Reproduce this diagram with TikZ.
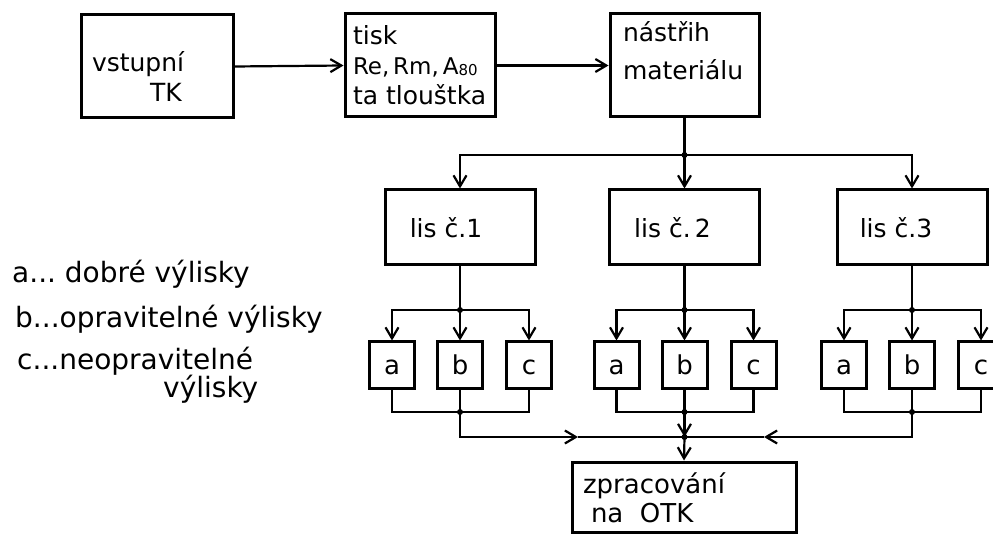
\documentclass[tikz,border=0pt]{standalone}
\usepackage{fontspec}
\setmainfont{DejaVu Sans}
\usetikzlibrary{arrows.meta}
\begin{document}
\begin{tikzpicture}[x=1pt,y=-1pt,
  box/.style={draw, line width=3pt, inner sep=0pt, rectangle},
  txt/.style={inner sep=0pt, outer sep=0pt, align=left, font=\fontsize{25}{30}\selectfont},
  leg/.style={inner sep=0pt, anchor=base west, font=\fontsize{28}{34}\selectfont},
  conn/.style={line width=2.2pt},
  arr/.style={conn, -{Straight Barb[length=11pt,width=13pt]}},
  dot/.style={circle, fill, inner sep=0pt, minimum size=6pt},
  lisbox/.style={box, minimum width=150pt, minimum height=75pt},
  sbox/.style={box, minimum width=45pt, minimum height=46pt, text height=19pt, text depth=0pt, font=\fontsize{26}{30}\selectfont},
]
\useasboundingbox (0,0) rectangle (993,534);

% top row
\node[box, minimum width=152pt, minimum height=103pt] (tk) at (157,66.5) {};
\node[txt, anchor=north west] (tkt) at (92,52) {vstupní\\\hspace*{58pt}TK};
\node[box, minimum width=150pt, minimum height=103pt] (tisk) at (420,65.5) {};
\node[txt, anchor=north west] (tiskt) at (353,26) {tisk\\{\fontsize{23}{30}\selectfont Re,\,Rm,\,A\raisebox{-1pt}{\fontsize{15}{15}\selectfont 80}}\\ta tlouštka};
\node[box, minimum width=149pt, minimum height=103pt] (nas) at (684.5,65.5) {};
\node[txt, anchor=north west, font=\fontsize{25}{38}\selectfont] (nast) at (623,22) {nástřih\\materiálu};

\draw[arr] (tk.east) -- (tisk.west);
\draw[arr] (tisk.east) -- (nas.west);

% distribution to presses
\coordinate (j0) at (684.5,155);
\node[lisbox] (lis1) at (460,227.5) {};
\node[lisbox] (lis2) at (684.5,227.5) {};
\node[lisbox] (lis3) at (912,227.5) {};
\node[txt] (l1t) at ([xshift=-14pt]lis1.center) {lis č.1};
\node[txt] (l2t) at ([xshift=-12pt]lis2.center) {lis č.\,2};
\node[txt] (l3t) at ([xshift=-16pt]lis3.center) {lis č.3};
\draw[conn] (nas.south) -- (j0);
\draw[arr] (j0) -| (lis1.north);
\draw[arr] (j0) -| (lis3.north);
\draw[arr] (j0) -- (lis2.north);
\node[dot] (d0) at (j0) {};

% a b c boxes
\foreach \n/\x in {1/460,2/684.5,3/912} {
  \node[sbox] (a\n) at (\x-68,365) {a};
  \node[sbox] (b\n) at (\x,365) {b};
  \node[sbox] (c\n) at (\x+69,365) {c};
  \coordinate (s\n) at (\x,310);
  \draw[conn] (lis\n.south) -- (s\n);
  \draw[arr] (s\n) -| (a\n.north);
  \draw[arr] (s\n) -| (c\n.north);
  \draw[arr] (s\n) -- (b\n.north);
  \node[dot] (sd\n) at (s\n) {};
  \coordinate (k\n) at (\x,412);
  \draw[conn] (a\n.south) |- (k\n) -| (c\n.south);
  \draw[conn] (b\n.south) -- (k\n);
  \node[dot] (kd\n) at (k\n) {};
}

% collection
\coordinate (J) at (684.5,437);
\coordinate (m1) at (578,437);
\coordinate (m3) at (764,437);
\draw[arr] (k1) |- (m1);
\draw[conn] (m1) -- (J);
\draw[arr] (k3) |- (m3);
\draw[conn] (m3) -- (J);
\draw[arr] (k2) -- (J);
\node[box, minimum width=224pt, minimum height=70pt] (zp) at (684,497) {};
\draw[arr] (J) -- (zp.north);
\node[dot] (Jd) at (J) {};
\node[txt, anchor=north west, font=\fontsize{26}{29}\selectfont] (zpt) at (583,473) {zpracování\\\hspace*{8pt}na\ \ OTK};

% legend
\node[leg] (lg1) at (12,283) {a...\ dobré výlisky};
\node[leg] (lg2) at (15,328) {b...opravitelné výlisky};
\node[leg] (lg3) at (17,370) {c...neopravitelné};
\node[leg] (lg4) at (163,398) {výlisky};
\end{tikzpicture}
\end{document}
